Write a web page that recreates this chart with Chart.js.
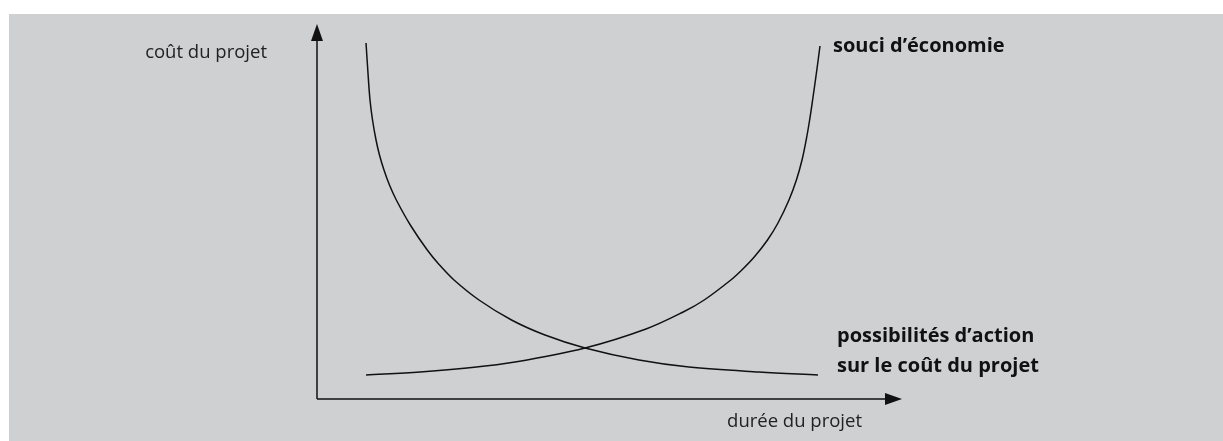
<!DOCTYPE html>
<html lang="fr">
<head>
    <meta charset="UTF-8">
    <title>Coût et durée du projet</title>
    <style>
        body { margin: 0; background: #fff; }
        canvas { display: block; }
    </style>
</head>
<body>
    <canvas id="coutChart" width="1223" height="441"></canvas>

    <script src="https://cdn.jsdelivr.net/npm/chart.js"></script>
    <script>
        // curves, x = durée (0-100), y = coût (0-100)
        const economieX = [8.38, 17.61, 25.64, 33.85, 45.81, 56.24, 62.60, 66.19, 70.74, 72.62, 74.74, 77.01, 78.80, 80.68, 81.95, 82.91, 83.62, 84.21, 84.72, 85.44, 85.98];
        const economieY = [6.40, 7.20, 8.27, 9.87, 13.60, 18.67, 23.20, 26.40, 31.73, 34.40, 37.87, 42.40, 46.93, 53.07, 58.40, 63.73, 69.07, 74.40, 79.73, 87.73, 94.13];

        const actionX = [8.38, 8.68, 9.06, 9.49, 10.09, 10.68, 11.45, 12.39, 13.56, 15.95, 18.85, 20.94, 23.42, 27.69, 33.25, 38.97, 45.81, 55.04, 63.59, 75.56, 85.64];
        const actionY = [94.93, 87.73, 79.73, 74.40, 69.07, 65.07, 61.07, 57.07, 53.07, 46.40, 39.73, 35.73, 31.73, 26.40, 21.07, 17.07, 13.60, 10.40, 8.53, 7.20, 6.40];

        const xAxisLabel = 'durée du projet';
        const yAxisLabel = 'coût du projet';
        const economieLabel = ['souci d’économie'];
        const actionLabel = ['possibilités d’action', 'sur le coût du projet'];

        const panelColor = '#cfd0d2';
        const inkColor = '#111';
        const fontName = '"Open Sans", "Noto Sans", sans-serif';

        function toPoints(xs, ys) {
            return xs.map((x, i) => ({ x: x, y: ys[i] }));
        }

        function arrowHead(c, tipX, tipY, dir) {
            c.beginPath();
            if (dir === 'up') {
                c.moveTo(tipX, tipY);
                c.lineTo(tipX - 6, tipY + 17);
                c.lineTo(tipX + 6, tipY + 17);
            } else {
                c.moveTo(tipX, tipY);
                c.lineTo(tipX - 17, tipY - 6);
                c.lineTo(tipX - 17, tipY + 6);
            }
            c.closePath();
            c.fill();
        }

        const schemaPlugin = {
            id: 'schema',
            beforeDraw(chart) {
                const c = chart.ctx;
                c.save();
                c.fillStyle = '#fff';
                c.fillRect(0, 0, chart.width, chart.height);
                c.fillStyle = panelColor;
                c.fillRect(9, 14, chart.width - 9, chart.height - 14);
                c.restore();
            },
            afterDraw(chart) {
                const c = chart.ctx;
                const xs = chart.scales.x;
                const ys = chart.scales.y;
                const x0 = xs.getPixelForValue(0);
                const xEnd = xs.getPixelForValue(100);
                const y0 = ys.getPixelForValue(0);
                const yEnd = ys.getPixelForValue(100);

                c.save();
                c.strokeStyle = inkColor;
                c.fillStyle = inkColor;
                c.lineWidth = 1.5;

                // axes
                c.beginPath();
                c.moveTo(x0, y0);
                c.lineTo(x0, yEnd + 14);
                c.moveTo(x0, y0);
                c.lineTo(xEnd - 14, y0);
                c.stroke();
                arrowHead(c, x0, yEnd, 'up');
                arrowHead(c, xEnd, y0, 'right');

                // axis titles
                c.fillStyle = '#222';
                c.font = '18.5px ' + fontName;
                c.textAlign = 'right';
                c.textBaseline = 'alphabetic';
                c.fillText(yAxisLabel, x0 - 50, yEnd + 34);
                c.fillText(xAxisLabel, xEnd - 40, y0 + 28);

                // curve names, next to the curve ends
                c.fillStyle = inkColor;
                c.font = 'bold 20px ' + fontName;
                c.textAlign = 'left';
                const ecoEnd = chart.getDatasetMeta(0).data[economieX.length - 1];
                economieLabel.forEach((t, i) => {
                    c.fillText(t, ecoEnd.x + 13, ecoEnd.y + 6 + i * 30);
                });
                const actEnd = chart.getDatasetMeta(1).data[actionX.length - 1];
                actionLabel.forEach((t, i) => {
                    c.fillText(t, actEnd.x + 19, actEnd.y - 33 + i * 30);
                });
                c.restore();
            }
        };

        const ctx = document.getElementById('coutChart');

        new Chart(ctx, {
            type: 'scatter',
            data: {
                datasets: [
                    {
                        label: economieLabel[0],
                        data: toPoints(economieX, economieY),
                        showLine: true,
                        borderColor: inkColor,
                        borderWidth: 1.5,
                        pointRadius: 0,
                        tension: 0.35,
                        clip: false
                    },
                    {
                        label: actionLabel.join(' '),
                        data: toPoints(actionX, actionY),
                        showLine: true,
                        borderColor: inkColor,
                        borderWidth: 1.5,
                        pointRadius: 0,
                        tension: 0.35,
                        clip: false
                    }
                ]
            },
            options: {
                responsive: false,
                animation: false,
                layout: {
                    padding: { left: 317, right: 321, top: 24, bottom: 42 }
                },
                scales: {
                    x: { type: 'linear', min: 0, max: 100, display: false },
                    y: { type: 'linear', min: 0, max: 100, display: false }
                },
                plugins: {
                    legend: { display: false },
                    tooltip: { enabled: false }
                }
            },
            plugins: [schemaPlugin]
        });
    </script>
</body>
</html>
